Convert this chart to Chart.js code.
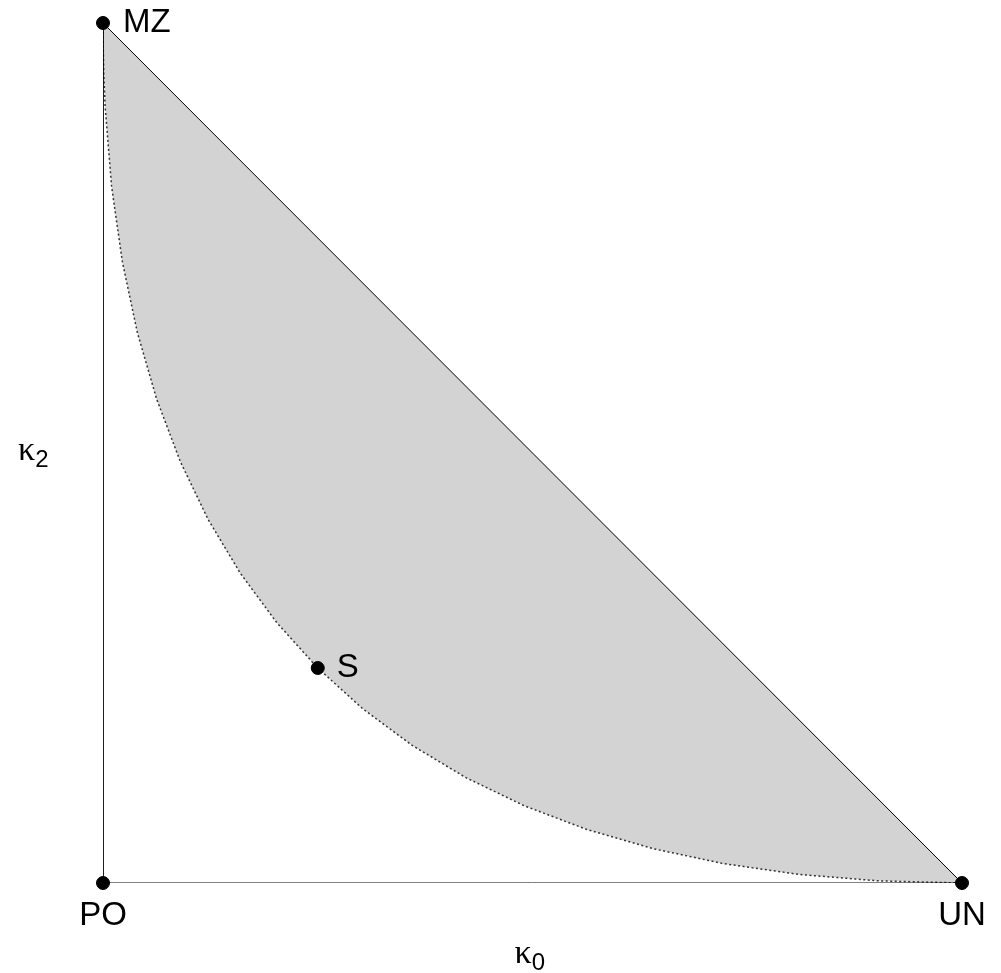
<!DOCTYPE html>
<html>
<head>
<meta charset="utf-8">
<script src="https://cdn.jsdelivr.net/npm/chart.js@4"></script>
<style>
  body { margin: 0; background: #fff; }
  canvas { display: block; }
</style>
</head>
<body>
<canvas id="kinChart" width="1001" height="973"></canvas>
<script>
/* ================= DATA ================= */
// named relationship points (kappa0, kappa2)
const pointNames = ["PO", "UN", "MZ", "S"];
const pointK0    = [0, 1, 0, 0.25];
const pointK2    = [0, 0, 1, 0.25];

// lower boundary of the shaded region
const curveK0 = [0, 0.0001, 0.0009, 0.0025, 0.01, 0.0225, 0.04, 0.0625, 0.09, 0.1225, 0.16,
                 0.2025, 0.25, 0.3025, 0.36, 0.4225, 0.49, 0.5625, 0.64, 0.7225, 0.81, 0.9025, 1];
const curveK2 = [1, 0.9801, 0.9409, 0.9025, 0.81, 0.7225, 0.64, 0.5625, 0.49, 0.4225, 0.36,
                 0.3025, 0.25, 0.2025, 0.16, 0.1225, 0.09, 0.0625, 0.04, 0.0225, 0.01, 0.0025, 0];

// triangle edges
const diagK0 = [0, 1];
const diagK2 = [1, 0];
const edgeK0 = [0, 0, 1];
const edgeK2 = [1, 0, 0];

const xTitle = "κ";
const xSub   = "0";
const yTitle = "κ";
const ySub   = "2";

/* ================= HELPERS ================= */
const toXY = (xs, ys) => xs.map((x, i) => ({ x: x, y: ys[i] }));

const FONT  = '"Liberation Sans", Arial, sans-serif';
const SERIF = '"Liberation Serif", "Times New Roman", serif';

/* ================= LABEL PLUGIN ================= */
const labelPlugin = {
  id: "labels",
  afterDraw(chart) {
    const ctx = chart.ctx;
    const xs = chart.scales.x;
    const ys = chart.scales.y;
    ctx.save();
    ctx.fillStyle = "#000";
    ctx.font = "33px " + FONT;
    ctx.textBaseline = "middle";

    pointNames.forEach((name, i) => {
      const px = xs.getPixelForValue(pointK0[i]);
      const py = ys.getPixelForValue(pointK2[i]);
      if (name === "PO" || name === "UN") {
        ctx.textAlign = "center";
        ctx.fillText(name, px, py + 33);
      } else {
        ctx.textAlign = "left";
        ctx.fillText(name, px + (name === "MZ" ? 20 : 19), py);
      }
    });

    // axis titles with subscripts
    const drawSub = (main, sub, left, midY) => {
      ctx.textAlign = "left";
      ctx.font = "34px " + SERIF;
      ctx.fillText(main, left, midY);
      const w = ctx.measureText(main).width;
      ctx.font = "24px " + FONT;
      ctx.fillText(sub, left + w, midY + 9);
    };
    const cx = (chart.chartArea.left + chart.chartArea.right) / 2;
    drawSub(xTitle, xSub, cx - 18, 954);
    drawSub(yTitle, ySub, 18, 451);
    ctx.restore();
  }
};

/* ================= CHART ================= */
new Chart(document.getElementById("kinChart"), {
  type: "scatter",
  data: {
    datasets: [
      {
        label: "boundary",
        data: toXY(curveK0, curveK2),
        showLine: true,
        borderColor: "#333",
        borderWidth: 1.5,
        borderDash: [2, 2.5],
        backgroundColor: "#d3d3d3",
        fill: 1,
        pointRadius: 0,
        order: 3
      },
      {
        label: "diagonal",
        data: toXY(diagK0, diagK2),
        showLine: true,
        borderColor: "#000",
        borderWidth: 1,
        pointRadius: 0,
        order: 2
      },
      {
        label: "edges",
        data: toXY(edgeK0, edgeK2),
        showLine: true,
        borderColor: "#000",
        borderWidth: 1,
        pointRadius: 0,
        order: 2
      },
      {
        label: "points",
        data: toXY(pointK0, pointK2),
        showLine: false,
        pointRadius: 6.5,
        pointBorderWidth: 1,
        pointBackgroundColor: "#000",
        pointBorderColor: "#000",
        clip: false,
        order: 1
      }
    ]
  },
  options: {
    responsive: false,
    animation: false,
    layout: { padding: { left: 103, top: 23, right: 39, bottom: 90 } },
    plugins: {
      legend: { display: false },
      tooltip: { enabled: false },
      filler: { propagate: false }
    },
    scales: {
      x: { type: "linear", min: 0, max: 1, display: false },
      y: { type: "linear", min: 0, max: 1, display: false }
    }
  },
  plugins: [labelPlugin]
});
</script>
</body>
</html>
